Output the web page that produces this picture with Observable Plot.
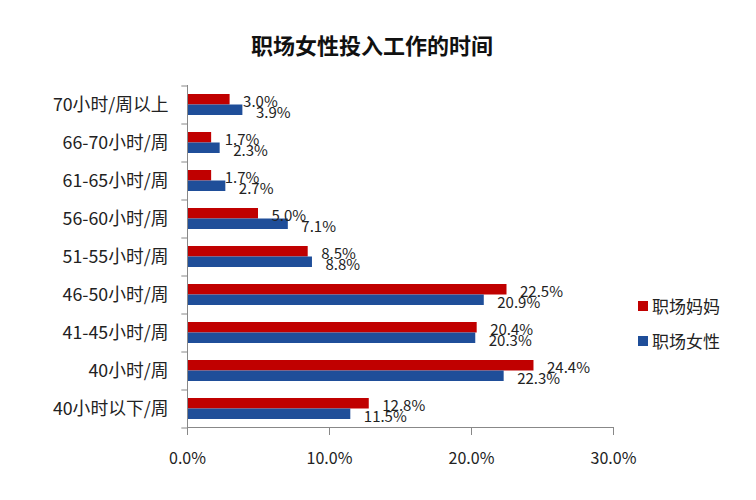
<!DOCTYPE html>
<html>
<head>
<meta charset="utf-8">
<script src="https://cdn.jsdelivr.net/npm/d3@7"></script>
<script src="https://cdn.jsdelivr.net/npm/@observablehq/plot@0.6"></script>
<style>
  html, body { margin: 0; padding: 0; background: #fff; }
  #wrap { position: relative; width: 756px; height: 500px; font-family: "Noto Sans CJK SC", "Noto Sans", sans-serif; }
  #title { position: absolute; left: 0; top: 32px; width: 744px; text-align: center; font-size: 22px; line-height: 24px; font-weight: bold; color: #111; }
  #chart { position: absolute; left: 0; top: 70px; }
  .leg { position: absolute; left: 638px; font-size: 17px; line-height: 20px; color: #222; display: flex; align-items: center; }
  .leg i { display: inline-block; width: 10px; height: 10px; margin-right: 4px; }
</style>
</head>
<body>
<div id="wrap">
  <div id="title">职场女性投入工作的时间</div>
  <div id="chart"></div>
  <div class="leg" style="top:296px"><i style="background:#c00000"></i>职场妈妈</div>
  <div class="leg" style="top:331px"><i style="background:#1f4e99"></i>职场女性</div>
</div>
<script>
const categories = ["70小时/周以上","66-70小时/周","61-65小时/周","56-60小时/周","51-55小时/周","46-50小时/周","41-45小时/周","40小时/周","40小时以下/周"];
const moms = [3.0,1.7,1.7,5.0,8.5,22.5,20.4,24.4,12.8];
const women = [3.9,2.3,2.7,7.1,8.8,20.9,20.3,22.3,11.5];
const xTicks = [0,10,20,30];
const seriesNames = ["职场妈妈","职场女性"];
const colors = ["#c00000","#1f4e99"];

const momData = categories.map((c,i) => ({cat: c, v: moms[i]}));
const womenData = categories.map((c,i) => ({cat: c, v: women[i]}));
const fmt = d => d.toFixed(1) + "%";

const W = 756, H = 430;
const chart = Plot.plot({
  width: W,
  height: H,
  marginLeft: 187,
  marginRight: 143,
  marginTop: 15,
  marginBottom: 73,
  style: {fontFamily: "'Noto Sans CJK SC', 'Noto Sans', sans-serif", fontSize: "17px", color: "#222", background: "#fff"},
  x: {domain: [0, 30], axis: null, label: null},
  y: {domain: categories, paddingInner: 0.45, paddingOuter: 0.225, axis: null, label: null},
  marks: [
    Plot.barX(momData, {x: "v", y: "cat", fill: colors[0], insetBottom: 10.5}),
    Plot.barX(womenData, {x: "v", y: "cat", fill: colors[1], insetTop: 10.5}),
    Plot.frame({anchor: "left", stroke: "#888"}),
    Plot.frame({anchor: "bottom", stroke: "#888"}),
    Plot.ruleY(categories, {y: d => d, x1: -0.4, x2: 0, dy: -19, stroke: "#888"}),
    Plot.ruleY(categories.slice(-1), {y: d => d, x1: -0.4, x2: 0, dy: 19, stroke: "#888"}),
    Plot.axisY({label: null, tickSize: 0, tickPadding: 19, fontSize: 17.8, fill: "#222"}),
    Plot.axisX({label: null, ticks: xTicks, tickFormat: fmt, tickSize: 8, tickPadding: 17, fontSize: 16, stroke: "#888", fill: "#222"}),
    Plot.text(momData, {x: "v", y: "cat", text: d => fmt(d.v), dx: 13, dy: -3, textAnchor: "start", fontSize: 15, fill: "#222"}),
    Plot.text(womenData, {x: "v", y: "cat", text: d => fmt(d.v), dx: 13, dy: 8, textAnchor: "start", fontSize: 15, fill: "#222"})
  ]
});
document.getElementById("chart").appendChild(chart);
</script>
</body>
</html>
